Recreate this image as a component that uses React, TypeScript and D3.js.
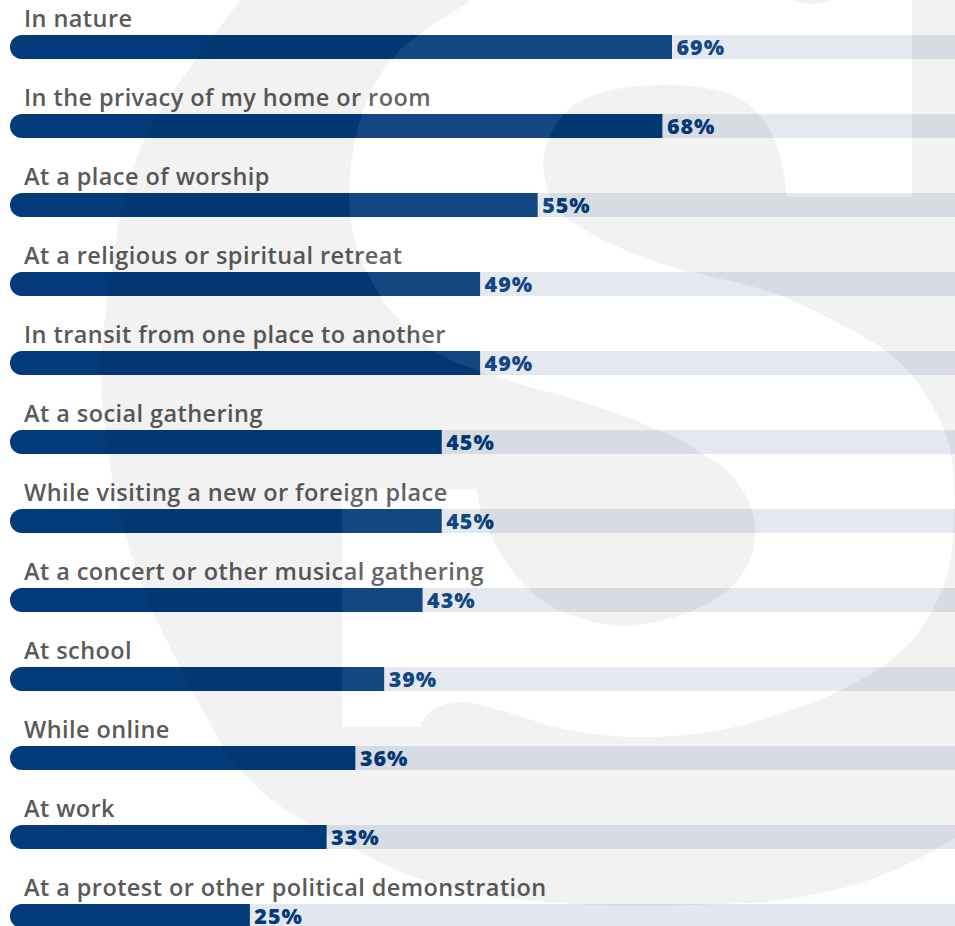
import React from "react";
import * as d3 from "d3";

const categories = [
  "In nature",
  "In the privacy of my home or room",
  "At a place of worship",
  "At a religious or spiritual retreat",
  "In transit from one place to another",
  "At a social gathering",
  "While visiting a new or foreign place",
  "At a concert or other musical gathering",
  "At school",
  "While online",
  "At work",
  "At a protest or other political demonstration",
];
const values = [69, 68, 55, 49, 49, 45, 45, 43, 39, 36, 33, 25];

// decorative watermark outline (background logo)
type Pt = [number, number];
const envelopeCurve: Pt[] = [
  [247, -10], [240, 0], [192, 65], [150, 128], [124, 200], [110, 280], [101, 367], [104, 420],
  [110, 465], [120, 510], [133, 561], [152, 610], [177, 661], [203, 711], [233, 761], [272, 800],
  [317, 828], [365, 855], [417, 878], [480, 894], [560, 903], [642, 906], [720, 904], [775, 901],
  [830, 891], [875, 878], [920, 858], [962, 834],
];
const envelopeLine: Pt[] = [[962, 834], [962, -10], [247, -10]];
const hookTopLine: Pt[] = [[478, -10], [785, -10]];
const hookBump: Pt[] = [[785, -10], [793, 0], [812, 4], [831, 0], [839, -10]];
const hookBandLine: Pt[] = [[839, -10], [912, -10], [912, 197], [787, 197]];
const hookCurveA: Pt[] = [
  [787, 197], [781, 160], [767, 125], [742, 100], [700, 87], [657, 85], [612, 90], [577, 103],
  [556, 125], [544, 155], [546, 185], [558, 210], [590, 233], [630, 252], [673, 267], [773, 293],
  [842, 325], [895, 358], [927, 397], [946, 435], [953, 470], [954, 515], [950, 563], [935, 605],
  [906, 647], [860, 680], [801, 707], [720, 730], [634, 737], [560, 728], [500, 710], [460, 702],
  [438, 707], [425, 717], [420, 727],
];
const hookRectLine: Pt[] = [[420, 727], [342, 727], [342, 489], [476, 489]];
const hookCurveB: Pt[] = [
  [476, 489], [482, 515], [497, 547], [522, 583], [558, 610], [600, 623], [635, 625], [692, 611],
  [730, 588], [750, 560], [755, 530], [748, 500], [728, 472], [700, 452], [672, 436], [595, 406],
  [482, 372], [433, 350], [383, 300], [353, 233], [350, 177], [367, 100], [400, 50], [470, 0], [478, -10],
];

const W = 955;
const H = 926;

function buildPath(pieces: { curve: boolean; pts: Pt[] }[]): string {
  const curved = d3.line().curve(d3.curveCatmullRom.alpha(0.5));
  const straight = d3.line();
  return (
    pieces
      .map((p, i) => {
        const s = (p.curve ? curved : straight)(p.pts) || "";
        return i === 0 ? s : s.replace(/^M/, "L");
      })
      .join("") + "Z"
  );
}

export default function App() {
  const x = d3.scaleLinear().domain([0, 100]).range([10, 969.4]);
  const y = d3
    .scaleBand<string>()
    .domain(categories)
    .range([35, 928])
    .paddingInner(55 / 79)
    .paddingOuter(0);
  const bh = y.bandwidth();
  const r = bh / 2;

  const envelopePath = buildPath([
    { curve: true, pts: envelopeCurve },
    { curve: false, pts: envelopeLine },
  ]);
  const hookPath = buildPath([
    { curve: false, pts: hookTopLine },
    { curve: true, pts: hookBump },
    { curve: false, pts: hookBandLine },
    { curve: true, pts: hookCurveA },
    { curve: false, pts: hookRectLine },
    { curve: true, pts: hookCurveB },
  ]);

  const barPath = (x0: number, x1: number, y0: number) => {
    const p = d3.path();
    p.moveTo(x0 + r, y0);
    p.lineTo(x1, y0);
    p.lineTo(x1, y0 + bh);
    p.lineTo(x0 + r, y0 + bh);
    p.arc(x0 + r, y0 + r, r, Math.PI / 2, (3 * Math.PI) / 2);
    p.closePath();
    return p.toString();
  };

  return (
    <div style={{ position: "absolute", left: 0, top: 0, width: W, height: H, overflow: "hidden" }}>
      <svg width={W} height={H} viewBox={`0 0 ${W} ${H}`} style={{ display: "block", background: "#ffffff" }}>
        {categories.map((c, i) => {
          const y0 = y(c) as number;
          return (
            <g key={c}>
              <path d={barPath(x(0), x(100), y0)} fill="#e3e8ef" />
              <path d={barPath(x(0), x(values[i]), y0)} fill="#023a7a" />
              <text
                x={24}
                y={y0 - 8.5}
                fontFamily="'Open Sans', Lato, sans-serif"
                fontWeight={600}
                fontSize={23.5}
                letterSpacing={0.42}
                fill="#5a5a5a"
              >
                {c}
              </text>
              <text
                x={x(values[i]) + 4.5}
                y={y0 + 19.5}
                fontFamily="'Open Sans', Lato, sans-serif"
                fontWeight={800}
                fontSize={21.5}
                letterSpacing={1}
                fill="#023a7a"
              >
                {values[i]}%
              </text>
            </g>
          );
        })}
        <path d={envelopePath + hookPath} fillRule="evenodd" fill="#000000" opacity={0.05} />
        <path d={hookPath} fill="#ffffff" opacity={0.065} />
      </svg>
    </div>
  );
}
